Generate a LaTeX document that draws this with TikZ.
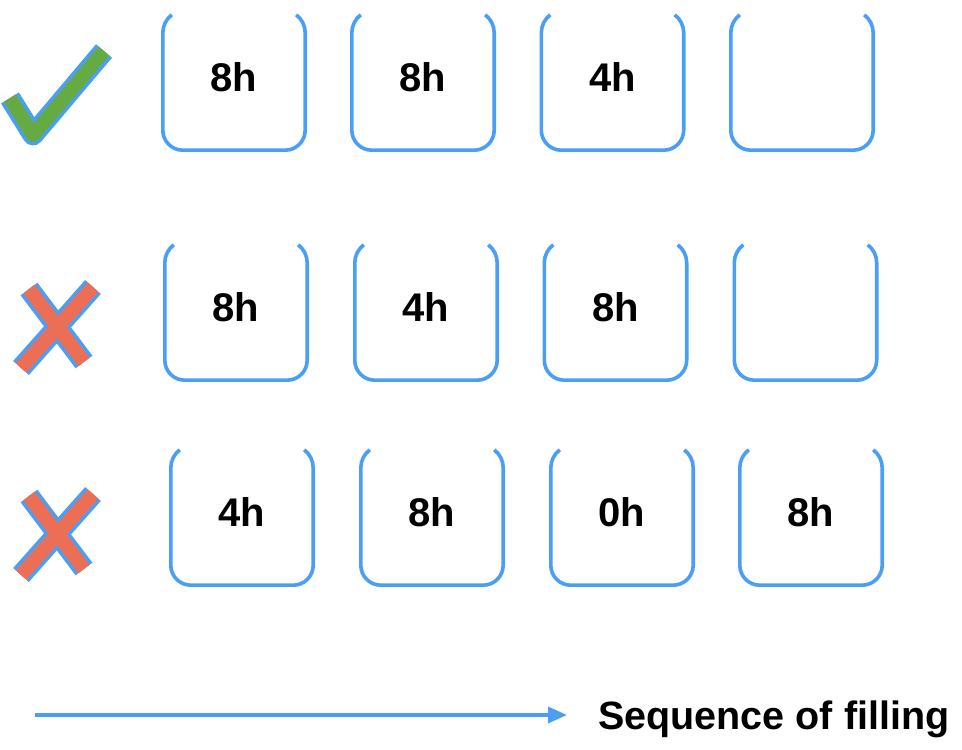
\documentclass[tikz,border=0pt]{standalone}
\usepackage{fontspec}
\setmainfont{Liberation Sans}
\usetikzlibrary{arrows.meta}
\definecolor{lineblue}{HTML}{4A9FF5}
\definecolor{okgreen}{HTML}{66AA44}
\definecolor{badred}{HTML}{EB6E55}
\tikzset{
  cell/.style={minimum width=142pt, minimum height=135pt, inner sep=0pt, text depth=10pt,
    font=\fontsize{40}{44}\selectfont\bfseries},
  cupline/.style={draw=lineblue, line width=3.6pt},
  markedge/.style={draw=lineblue, line width=21pt},
  okfill/.style={draw=okgreen, line width=14pt},
  badfill/.style={draw=badred, line width=14pt},
}
\newcommand\cupof[1]{%
  \draw[cupline] ([xshift=9pt]#1.north west) arc[start angle=126.9, end angle=180, radius=22.5pt]
    -- ([yshift=20pt]#1.south west) arc[start angle=180, end angle=270, radius=20pt]
    -- ([xshift=-20pt]#1.south east) arc[start angle=270, end angle=360, radius=20pt]
    -- ([yshift=-18pt]#1.north east) arc[start angle=0, end angle=53.1, radius=22.5pt];}
\begin{document}
\begin{tikzpicture}[x=1pt,y=1pt]
\useasboundingbox (0,0) rectangle (962,750);
% row 1
\node[cell] (a1) at (234,667.5) {8h};
\node[cell] (a2) at (423,667.5) {8h};
\node[cell] (a3) at (612.5,667.5) {4h};
\node[cell] (a4) at (802,667.5) {};
% row 2
\node[cell] (b1) at (236,437.5) {8h};
\node[cell] (b2) at (426,437.5) {4h};
\node[cell] (b3) at (615.5,437.5) {8h};
\node[cell] (b4) at (805.5,437.5) {};
% row 3
\node[cell] (c1) at (242,232.5) {4h};
\node[cell] (c2) at (432,232.5) {8h};
\node[cell] (c3) at (622,232.5) {0h};
\node[cell] (c4) at (811,232.5) {8h};
\foreach \n in {a1,a2,a3,a4,b1,b2,b3,b4,c1,c2,c3,c4} {\cupof{\n}}
% check mark
\draw[markedge, line join=round] (10,652) -- (33,615) -- (104,699);
\draw[okfill, line join=round] (10,652) -- (33,615) -- (104,699);
% cross row 2
\draw[markedge] (29,461) -- (84,388);
\draw[markedge] (93,463) -- (21,382);
\draw[badfill] (29,461) -- (84,388);
\draw[badfill] (93,463) -- (21,382);
% cross row 3
\draw[markedge] (29,254) -- (84,181);
\draw[markedge] (93,256) -- (21,175);
\draw[badfill] (29,254) -- (84,181);
\draw[badfill] (93,256) -- (21,175);
% arrow
\coordinate (s) at (35,35);
\node[anchor=base west, inner sep=0pt, font=\fontsize{39.5}{43}\selectfont\bfseries] (seq) at (598,20) {Sequence of filling};
\draw[cupline, -{Triangle[length=19pt,width=16pt]}, shorten >=31pt] (s) -- (s -| seq.west);
\end{tikzpicture}
\end{document}
